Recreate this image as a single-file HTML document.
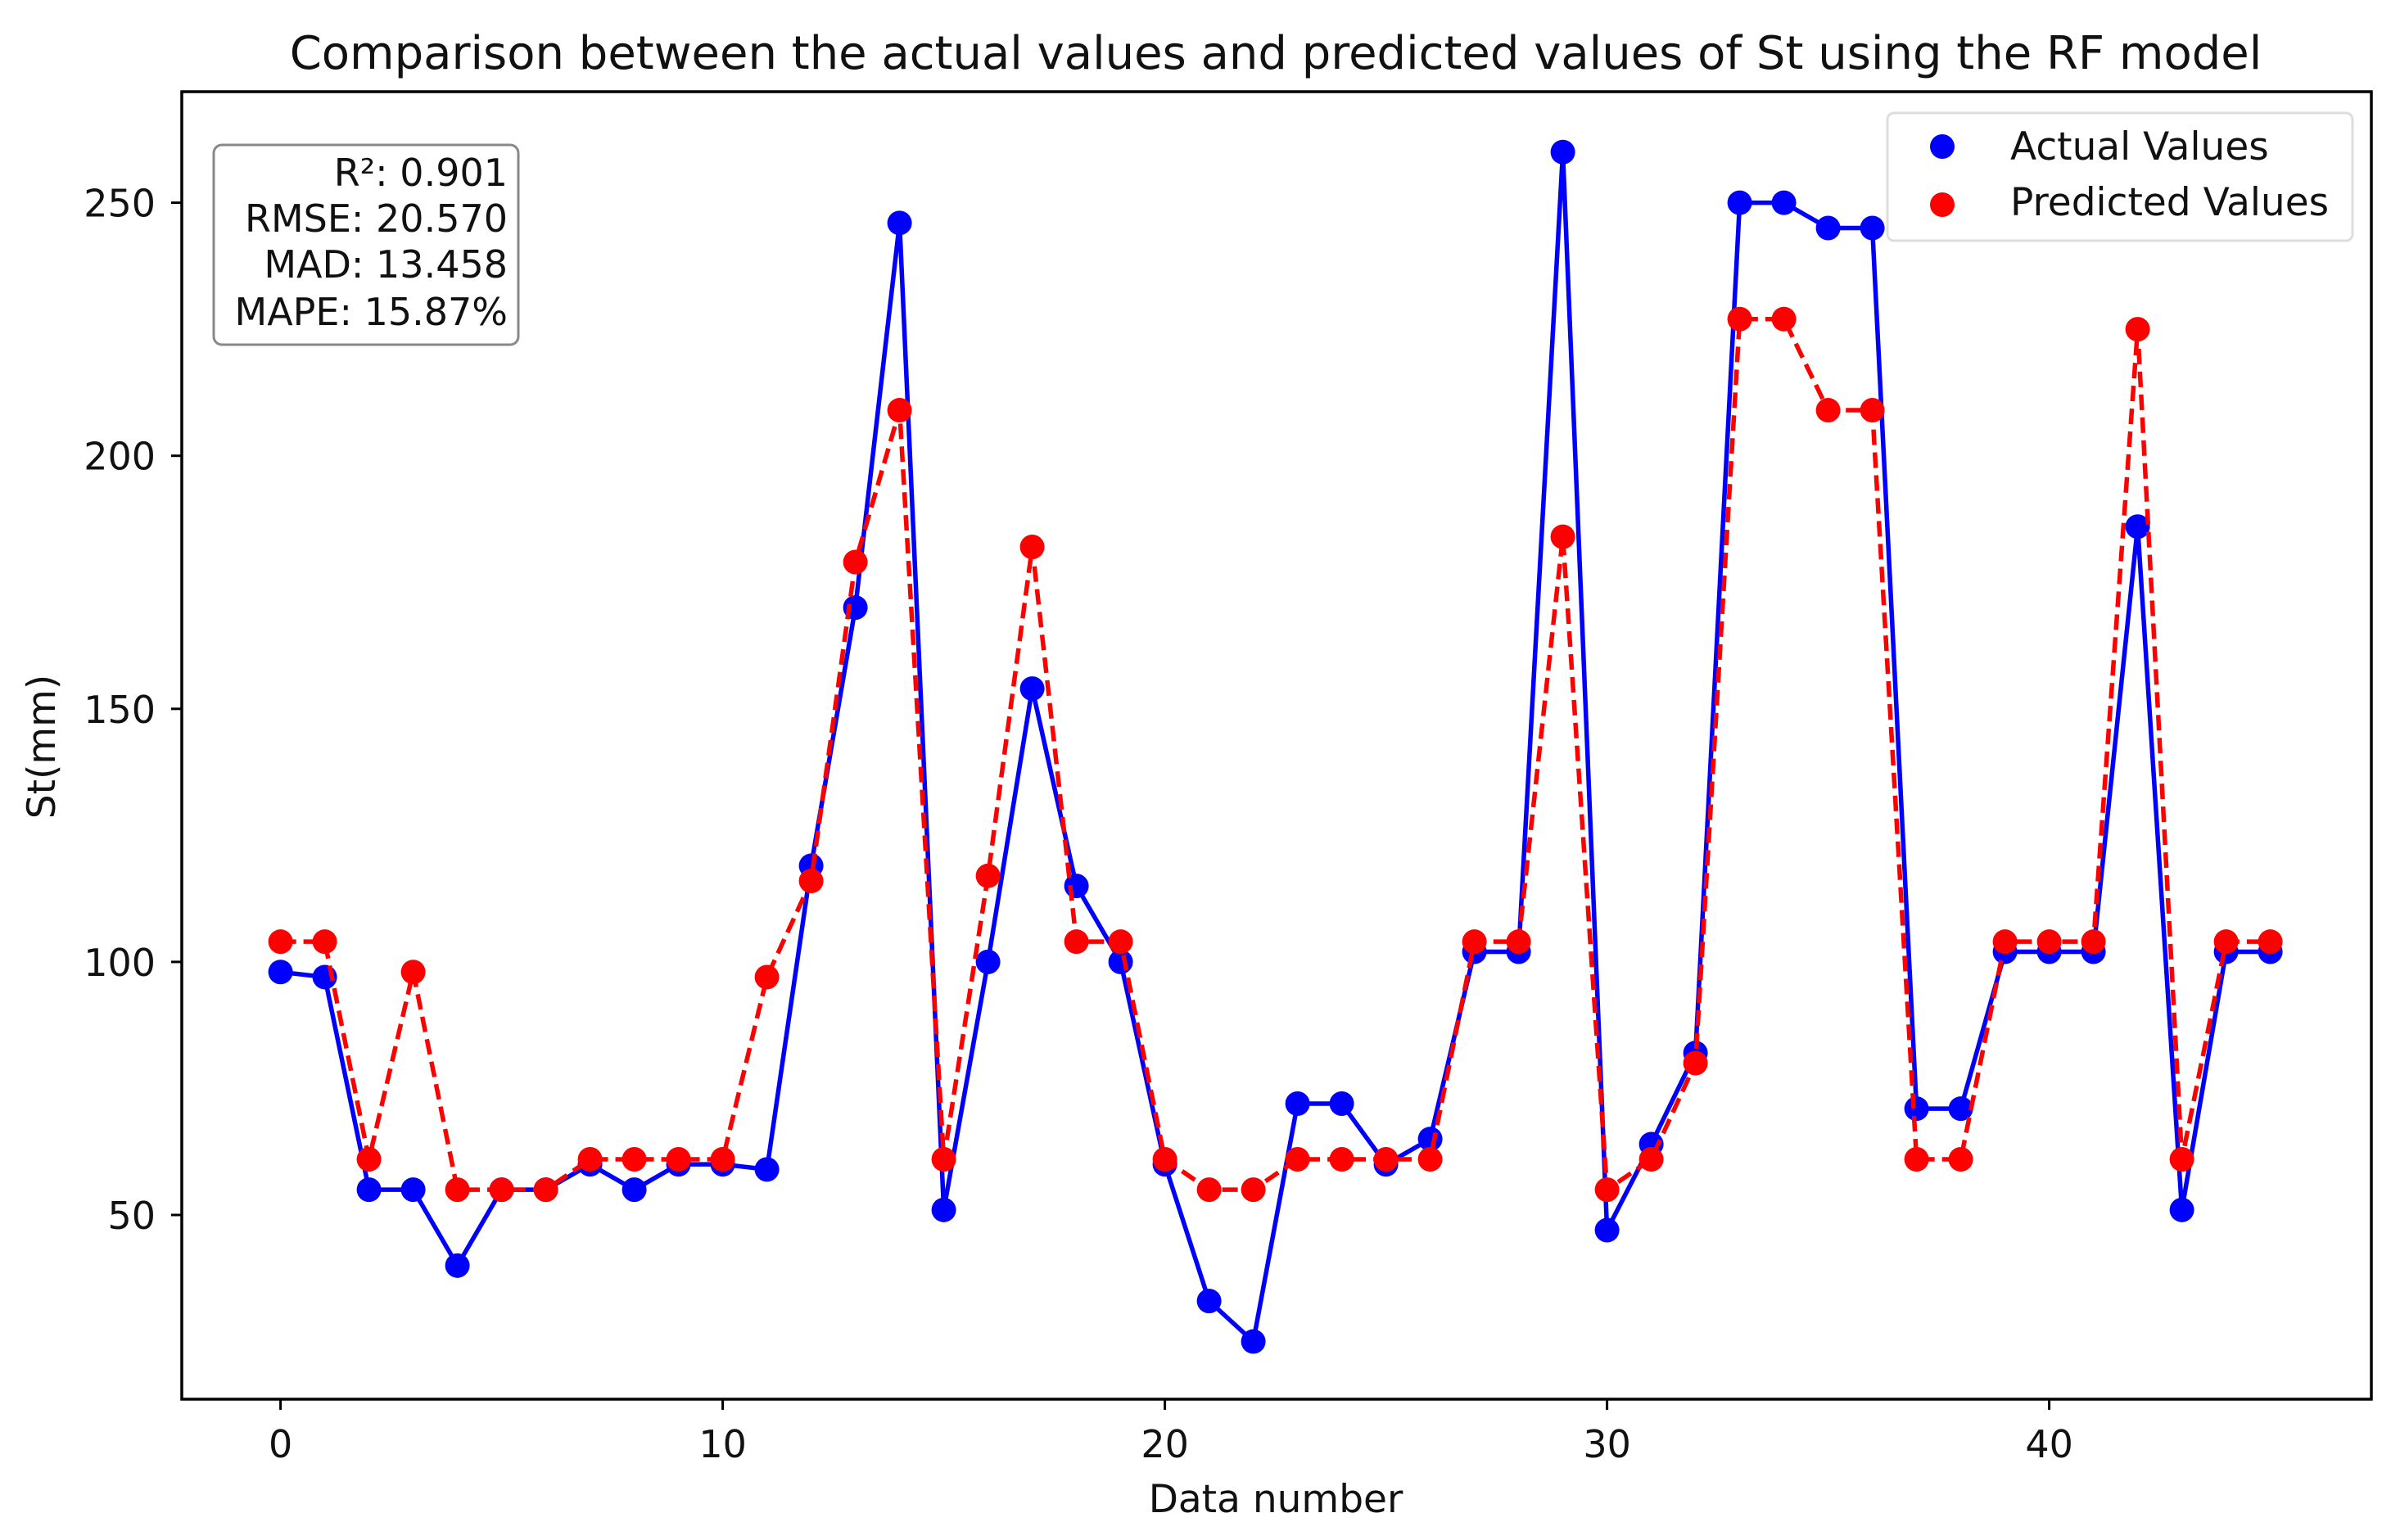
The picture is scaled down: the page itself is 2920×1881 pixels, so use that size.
<!DOCTYPE html>
<html><head><meta charset="utf-8"><style>
html,body{margin:0;padding:0;background:#fff}
svg{display:block;font-family:"DejaVu Sans","Liberation Sans",sans-serif}
</style></head><body>
<svg id="chart" width="2920" height="1881" viewBox="0 0 2920 1881">
<rect x="0" y="0" width="2920" height="1881" fill="#fff"/>
<text x="1558" y="84" font-size="56" text-anchor="middle" fill="#111">Comparison between the actual values and predicted values of St using the RF model</text>
<g id="plot"></g>
<rect x="222" y="112" width="2674" height="1597" fill="none" stroke="#000" stroke-width="3.5"/>
<g id="xticks"></g>
<g id="yticks"></g>
<text x="1558" y="1847" font-size="47" text-anchor="middle" fill="#111">Data number</text>
<text x="0" y="0" font-size="47" text-anchor="middle" fill="#111" transform="translate(67,912) rotate(-90)">St(mm)</text>
<g>
<rect x="261" y="177" width="372" height="244" rx="10" fill="#fff" stroke="#888" stroke-width="3"/>
<text x="620" y="227" font-size="46" text-anchor="end" fill="#111">R²: 0.901</text>
<text x="620" y="283" font-size="46" text-anchor="end" fill="#111">RMSE: 20.570</text>
<text x="620" y="339" font-size="46" text-anchor="end" fill="#111">MAD: 13.458</text>
<text x="620" y="397" font-size="46" text-anchor="end" fill="#111">MAPE: 15.87%</text>
</g>
<g>
<rect x="2305" y="138" width="568" height="156" rx="8" fill="#fff" stroke="#ddd" stroke-width="3"/>
<circle cx="2372" cy="179" r="15" fill="#0000ff"/>
<text x="2455" y="195" font-size="47" fill="#111">Actual Values</text>
<circle cx="2372" cy="250" r="15" fill="#ff0000"/>
<text x="2455" y="263" font-size="47" fill="#111">Predicted Values</text>
</g>
</svg>
<script>
const actualValues = [98,97,55,55,40,55,55,60,55,60,60,59,119,170,246,51,100,154,115,100,60,33,25,72,72,60,65,102,102,260,47,64,82,250,250,245,245,71,71,102,102,102,186,51,102,102];
const predictedValues = [104,104,61,98,55,55,55,61,61,61,61,97,116,179,209,61,117,182,104,104,61,55,55,61,61,61,61,104,104,184,55,61,80,227,227,209,209,61,61,104,104,104,225,61,104,104];
const xTickValues = [0,10,20,30,40];
const yTickValues = [50,100,150,200,250];

const NS = 'http://www.w3.org/2000/svg';
function xScale(v){ return 342.6 + v*54.0; }
function yScale(v){ return 1484 - (v-50)*6.182; }
function mk(tag, attrs, parent){
  const e = document.createElementNS(NS, tag);
  for (const k in attrs) e.setAttribute(k, attrs[k]);
  parent.appendChild(e);
  return e;
}
const plot = document.getElementById('plot');
function series(vals, color, dashed, name){
  const pts = vals.map((v,i)=>xScale(i)+','+yScale(v)).join(' ');
  const attrs = {points:pts, fill:'none', stroke:color, 'stroke-width':5.5, 'stroke-linejoin':'round'};
  if (dashed) attrs['stroke-dasharray'] = '19,9';
  const line = mk('polyline', attrs, plot);
  
  
  vals.forEach((v,i)=>{
    const c = mk('circle', {cx:xScale(i), cy:yScale(v), r:15, fill:color}, plot);
    
    
  });
}
series(actualValues, '#0000ff', false, 'actual');
series(predictedValues, '#ff0000', true, 'predicted');

const xg = document.getElementById('xticks');
xTickValues.forEach(t=>{
  const l = mk('line', {x1:xScale(t), x2:xScale(t), y1:1709, y2:1722, stroke:'#000', 'stroke-width':3}, xg);
  
  
  const tx = mk('text', {x:xScale(t), y:1780, 'font-size':46, 'text-anchor':'middle', fill:'#111'}, xg);
  tx.textContent = t;
  
  
});
const yg = document.getElementById('yticks');
yTickValues.forEach(t=>{
  const l = mk('line', {x1:209, x2:222, y1:yScale(t), y2:yScale(t), stroke:'#000', 'stroke-width':3}, yg);
  
  
  const tx = mk('text', {x:190, y:yScale(t)+17, 'font-size':46, 'text-anchor':'end', fill:'#111'}, yg);
  tx.textContent = t;
  
  
});
</script>
</body></html>
